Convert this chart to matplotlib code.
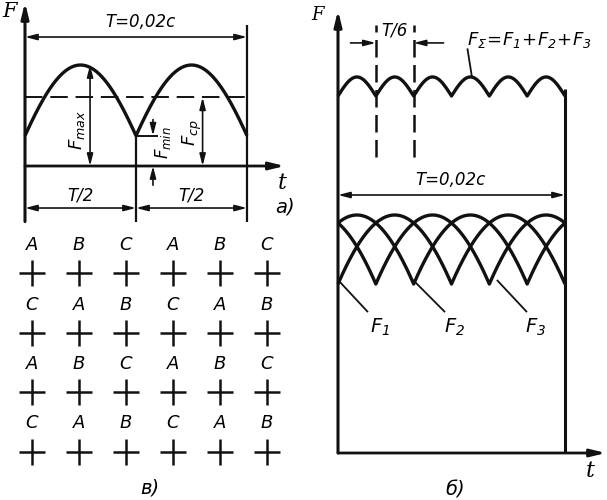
import numpy as np
import matplotlib.pyplot as plt

plt.rcParams['font.family'] = ['DejaVu Sans']
plt.rcParams['mathtext.fontset'] = 'custom'
plt.rcParams['mathtext.rm'] = 'DejaVu Sans:italic'
plt.rcParams['mathtext.it'] = 'DejaVu Sans:italic'

# period of the supply, s
T = 0.02

# a) single phase: levels in units of F_max
a_F_max = 1.0
a_F_min = 0.30
a_F_avg = 0.68

# б) three phases and their sum (relative units)
b_F_max = 1.0
b_F_min = 0.71
phase_shifts = [0.0, T / 3, 2 * T / 3]
phase_names = ['$F_1$', '$F_2$', '$F_3$']
sum_peak = 1.58
sum_cusp = 1.50

# в) pole order of the three phases
pole_rows = [
    ['A', 'B', 'C', 'A', 'B', 'C'],
    ['C', 'A', 'B', 'C', 'A', 'B'],
    ['A', 'B', 'C', 'A', 'B', 'C'],
    ['C', 'A', 'B', 'C', 'A', 'B'],
]

W, H = 607, 500
ink = '#111111'

fig = plt.figure(figsize=(W / 100, H / 100), dpi=100)


def panel(px_t0, px_tT, row_F0, row_F1):
    # full-figure axes where t=0..T and F=0..1 land on given pixels
    ax = fig.add_axes([0, 0, 1, 1])
    sx = (px_tT - px_t0) / T
    sy = row_F0 - row_F1
    ax.set_xlim(-px_t0 / sx, (W - px_t0) / sx)
    ax.set_ylim(-(H - row_F0) / sy, row_F0 / sy)
    ax.axis('off')
    ax.patch.set_alpha(0)
    return ax


def humps(t, period, shift, lo, hi, s0):
    ph = ((t - shift) % period) / period
    th0 = np.arcsin(s0)
    th = th0 + ph * (np.pi - 2 * th0)
    return lo + (hi - lo) * (np.sin(th) - s0) / (1 - s0)


def arrow(ax, p0, p1, style='-|>', lw=1.2, hl=0.7, hw=0.18):
    ax.annotate('', xy=p1, xytext=p0,
                arrowprops=dict(arrowstyle=f'{style},head_length={hl},head_width={hw}',
                                lw=lw, color=ink, shrinkA=0, shrinkB=0))


def line(ax, xs, ys, **kw):
    kw.setdefault('color', ink)
    kw.setdefault('lw', 1.2)
    ax.plot(xs, ys, solid_capstyle='butt', **kw)


# ---------------- a) ----------------
ax = panel(25, 247, 166, 65)
t = np.linspace(0, T, 2001)
line(ax, t, humps(t, T / 2, 0, a_F_min, a_F_max, a_F_min), lw=2.4)
line(ax, [0, T], [a_F_avg, a_F_avg], lw=1.4, dashes=(9, 4))

# axes
arrow(ax, (0, -0.55), (0, 1.62), lw=2.2, hl=0.9, hw=0.22)
arrow(ax, (0, 0), (0.0234, 0), lw=2.0, hl=0.9, hw=0.22)
ax.text(-0.0014, 1.53, 'F', fontsize=15, family='DejaVu Serif', style='italic',
        ha='center', va='center')
ax.text(0.0232, -0.17, 't', fontsize=16, family='DejaVu Serif', style='italic',
        ha='center', va='center')
ax.text(0.0234, -0.41, 'a)', fontsize=14, style='italic', ha='center', va='center')

# extension lines
line(ax, [T, T], [1.40, -0.55], lw=1.6)
line(ax, [T / 2, T / 2], [a_F_min, -0.55], lw=1.6)
line(ax, [T / 2, 0.0120], [a_F_min, a_F_min], lw=1.4)

# dimensions
arrow(ax, (0, 1.277), (T, 1.277), style='<|-|>')
ax.text(0.0104, 1.43, 'T=0,02c', fontsize=12, style='italic', ha='center', va='center')
arrow(ax, (0, -0.416), (T / 2, -0.416), style='<|-|>')
arrow(ax, (T / 2, -0.416), (T, -0.416), style='<|-|>')
ax.text(T / 4, -0.29, 'T/2', fontsize=12, style='italic', ha='center', va='center')
ax.text(3 * T / 4, -0.29, 'T/2', fontsize=12, style='italic', ha='center', va='center')

arrow(ax, (0.00586, 0), (0.00586, a_F_max), style='<|-|>')
ax.text(0.0047, 0.36, '$F_{max}$', fontsize=13, rotation=90, ha='center', va='center')
arrow(ax, (0.0160, 0), (0.0160, a_F_avg), style='<|-|>')
ax.text(0.0151, 0.33, '$F_{cp}$', fontsize=13, rotation=90, ha='center', va='center')
arrow(ax, (0.01153, 0.46), (0.01153, a_F_min))
arrow(ax, (0.01153, -0.19), (0.01153, 0))
ax.text(0.0124, 0.23, '$F_{min}$', fontsize=12, rotation=90, ha='center', va='center')

# ---------------- б) ----------------
bx = panel(338, 565, 453, 215)
t = np.linspace(0, T, 3001)
for sh in phase_shifts:
    line(bx, t, humps(t, T / 2, sh, b_F_min, b_F_max, b_F_min), lw=2.4)
line(bx, t, humps(t, T / 6, 0, sum_cusp, sum_peak, 0.0), lw=2.4)

arrow(bx, (0, 0), (0, 1.86), lw=2.2, hl=0.9, hw=0.22)
arrow(bx, (0, 0), (0.0236, 0), lw=2.0, hl=0.9, hw=0.22)
line(bx, [T, T], [0, sum_cusp + 0.03], lw=2.2)
bx.text(-0.0018, 1.84, 'F', fontsize=13, family='DejaVu Serif', style='italic',
        ha='center', va='center')
bx.text(0.0222, -0.075, 't', fontsize=16, family='DejaVu Serif', style='italic',
        ha='center', va='center')
bx.text(0.0103, -0.155, 'б)', fontsize=14, style='italic', ha='center', va='center')

# T/6 marks
for tm in (T / 6, T / 3):
    line(bx, [tm, tm], [1.245, 1.80], lw=1.8, dashes=(7, 3))
arrow(bx, (0.0011, 1.723), (T / 6, 1.723))
arrow(bx, (0.0093, 1.723), (T / 3, 1.723))
bx.text(T / 4, 1.775, 'T/6', fontsize=12, style='italic', ha='center', va='center')

bx.text(0.0169, 1.735, r'$F_\Sigma\!=\!F_1\!+\!F_2\!+\!F_3$', fontsize=13,
        ha='center', va='center')
line(bx, [0.0114, 0.0118], [1.70, sum_peak], lw=1.3)

arrow(bx, (0, 1.084), (T, 1.084), style='<|-|>')
bx.text(0.0099, 1.147, 'T=0,02c', fontsize=12, style='italic', ha='center', va='center')

# phase labels with leaders
leader_t = [(0.0, 0.00264), (0.00661, 0.00943), (0.0140, 0.01665)]
label_t = [0.0037, 0.0103, 0.01736]
for (ta, tb), tl, name in zip(leader_t, label_t, phase_names):
    line(bx, [ta, tb], [0.727, 0.592], lw=1.3)
    bx.text(tl, 0.53, name, fontsize=14, ha='center', va='center')

# ---------------- в) ----------------
cx = fig.add_axes([0, 0, 1, 1])
cx.set_xlim(0, W)
cx.set_ylim(H, 0)
cx.axis('off')
cx.patch.set_alpha(0)
col_x = 32 + 47 * np.arange(6)
for i, row in enumerate(pole_rows):
    y = 245 + 59.5 * i
    for j, name in enumerate(row):
        x = col_x[j]
        cx.text(x, y, name, fontsize=13, style='italic', ha='center', va='center')
        line(cx, [x - 13, x + 13], [y + 28, y + 28], lw=1.8)
        line(cx, [x, x], [y + 15, y + 41], lw=1.8)
cx.text(150, 488, 'в)', fontsize=14, style='italic', ha='center', va='center')

fig.savefig('out.png', dpi=100, facecolor='white')
